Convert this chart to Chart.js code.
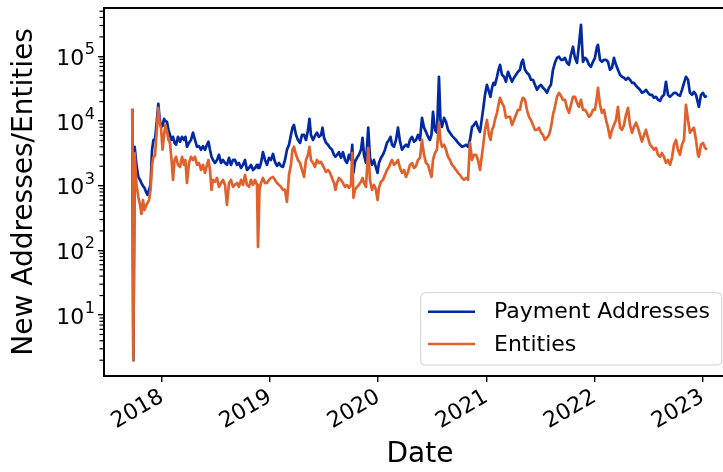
<!DOCTYPE html>
<html><head><meta charset="utf-8">
<script src="https://cdn.jsdelivr.net/npm/chart.js@4.4.1/dist/chart.umd.min.js"></script>
<style>
html,body{margin:0;padding:0;background:#fff;overflow:hidden;width:723px;height:472px;}
#wrap{position:relative;width:740px;height:472px;}
canvas{display:block;}
</style></head><body>
<div id="wrap"><canvas id="c" width="740" height="472"></canvas></div>
<script>
// Dates as decimal years
const dates = [
2017.725,2017.735,2017.747,2017.764,2017.781,2017.797,2017.810,2017.824,2017.838,2017.852,
2017.866,2017.880,2017.894,2017.908,2017.921,2017.935,2017.949,2017.966,2017.977,2017.991,
2018.005,2018.019,2018.032,2018.046,2018.060,2018.074,2018.088,2018.102,2018.116,2018.130,
2018.148,2018.167,2018.185,2018.204,2018.217,2018.231,2018.250,2018.268,2018.287,2018.305,
2018.324,2018.342,2018.361,2018.379,2018.398,2018.416,2018.430,2018.444,2018.458,2018.472,
2018.490,2018.509,2018.527,2018.546,2018.564,2018.583,2018.601,2018.620,2018.638,2018.657,
2018.675,2018.694,2018.712,2018.731,2018.749,2018.768,2018.786,2018.805,2018.823,2018.842,
2018.860,2018.879,2018.888,2018.902,2018.916,2018.934,2018.953,2018.971,2018.990,2019.008,
2019.027,2019.045,2019.064,2019.082,2019.101,2019.119,2019.138,2019.156,2019.175,2019.193,
2019.207,2019.221,2019.240,2019.258,2019.277,2019.295,2019.314,2019.332,2019.351,2019.364,
2019.378,2019.397,2019.415,2019.434,2019.452,2019.471,2019.485,2019.499,2019.517,2019.536,
2019.554,2019.573,2019.591,2019.605,2019.619,2019.637,2019.656,2019.674,2019.693,2019.711,
2019.730,2019.748,2019.760,2019.771,2019.785,2019.804,2019.822,2019.841,2019.855,2019.869,
2019.887,2019.908,2019.924,2019.943,2019.961,2019.980,2019.994,2020.007,2020.026,2020.044,
2020.063,2020.081,2020.100,2020.114,2020.128,2020.146,2020.165,2020.183,2020.202,2020.220,
2020.239,2020.257,2020.276,2020.294,2020.313,2020.331,2020.350,2020.368,2020.387,2020.405,
2020.424,2020.442,2020.461,2020.479,2020.493,2020.507,2020.525,2020.544,2020.562,2020.576,
2020.590,2020.609,2020.627,2020.646,2020.664,2020.683,2020.701,2020.720,2020.738,2020.757,
2020.775,2020.794,2020.812,2020.831,2020.849,2020.868,2020.886,2020.905,2020.923,2020.942,
2020.960,2020.974,2020.988,2021.006,2021.025,2021.039,2021.053,2021.066,2021.080,2021.099,
2021.113,2021.127,2021.145,2021.164,2021.182,2021.201,2021.219,2021.238,2021.256,2021.275,
2021.293,2021.312,2021.325,2021.339,2021.358,2021.376,2021.395,2021.413,2021.432,2021.450,
2021.469,2021.487,2021.506,2021.524,2021.543,2021.561,2021.580,2021.598,2021.617,2021.635,
2021.654,2021.672,2021.691,2021.709,2021.728,2021.746,2021.765,2021.783,2021.802,2021.820,
2021.839,2021.857,2021.876,2021.894,2021.913,2021.931,2021.950,2021.968,2021.987,2022.005,
2022.024,2022.033,2022.052,2022.070,2022.089,2022.107,2022.126,2022.144,2022.163,2022.181,
2022.200,2022.218,2022.237,2022.255,2022.274,2022.292,2022.311,2022.329,2022.348,2022.366,
2022.385,2022.403,2022.422,2022.440,2022.459,2022.477,2022.496,2022.514,2022.533,2022.551,
2022.570,2022.588,2022.607,2022.625,2022.644,2022.662,2022.681,2022.699,2022.718,2022.736,
2022.755,2022.773,2022.792,2022.810,2022.829,2022.847,2022.866,2022.884,2022.903,2022.921,
2022.940,2022.958,2022.967,2022.986,2023.004,2023.023,2023.041
];

const payment = [
15500,2,4000,2100,1370,1230,1100,990,925,800,
720,860,1030,3600,5100,5100,8700,18500,11200,8100,
8400,10800,10000,9700,7300,6100,5100,5700,4600,4300,
5700,4800,5700,5100,5700,4000,4600,5100,6600,5100,
4000,4100,3600,4100,3600,4300,4800,3600,2800,2500,
2250,2500,3000,2250,2500,2250,2100,2700,2100,2500,
2500,2100,2250,1880,2100,2500,1750,1880,2100,1750,
1880,2100,1880,1880,2250,3300,2500,2100,2700,2500,
3100,2330,2020,2250,2020,1950,2500,3600,4300,6100,
7900,8700,6100,5100,4600,6100,6100,5100,7300,10800,
6100,5100,5900,6600,5700,6100,7900,5500,4600,4300,
3850,3600,3000,2800,3000,3300,2700,3300,2500,2250,
3000,2500,4300,1580,2330,2700,3000,3600,5500,3000,
2250,7900,2700,2100,2500,1880,1580,2250,2700,3000,
3600,4600,5100,5700,4300,4000,5100,7900,4800,3600,
4000,4300,4000,5100,5700,4800,5100,6100,5100,11200,
7900,6800,5700,5100,6100,13900,7300,6600,48300,10400,
8100,11200,9700,7300,6600,5900,5500,5100,4600,4300,
4000,4100,4300,4000,5100,8100,8700,9700,7900,6800,
11200,16600,25400,36300,28300,23700,32700,39000,36300,48300,
62000,74100,51900,48300,40500,57700,48300,40500,46700,51900,
57700,62000,79600,88600,62000,55700,51900,43500,43500,36300,
30400,33800,36300,32700,30400,27300,32700,36300,62000,79600,
95000,99000,88600,88600,95000,79600,74100,106000,141000,95000,
79600,151000,308000,82500,95000,88600,74100,69000,82500,95000,
141000,151000,88600,82500,88600,88600,82500,62000,66600,95000,
74100,62000,51900,48300,46700,43500,46700,43500,39000,39000,
35100,32700,30400,27300,28300,30400,27300,25400,25400,22900,
23700,21300,20500,23700,25400,40500,25400,23700,25400,27300,
27300,25400,24500,30400,39000,48300,43500,27300,25400,28300,
25400,19100,16600,25400,27300,23700,24500
];

const entities = [
15500,2,3200,1030,670,505,365,600,420,490,
540,600,860,2100,2800,2900,6100,16000,9700,7900,
3600,6100,8700,6800,5100,4600,2500,1230,2500,2800,
2100,1950,2800,2100,2500,1100,2250,2800,2500,2800,
2100,2250,1750,2100,1580,2100,2500,1750,860,1230,
1150,1320,960,1100,1230,1030,505,1100,1230,960,
1030,1100,960,1230,1030,1470,1030,960,1230,1030,
1230,1030,113,860,1100,1320,1100,1100,1230,1320,
1370,1230,1100,1030,960,860,860,560,1470,2100,
3600,4000,3000,2500,2250,1750,1370,2500,3000,4000,
2500,2250,1950,2500,2250,2330,2100,1880,1630,1750,
1580,1320,1100,860,1100,1320,1230,1100,960,1030,
925,1030,3200,650,860,960,1030,1150,1320,1100,
960,3850,1230,860,1030,860,600,925,1150,1230,
1470,1750,1950,2250,2500,2100,2250,2500,1880,1580,
1750,1370,1630,2100,2250,1880,2020,2500,2700,5100,
3000,2250,2100,1630,1370,2500,3200,3600,9400,5100,
4000,4300,3600,2800,2500,2100,1950,1750,1580,1470,
1320,1230,1320,1230,4600,2500,3000,3000,2500,1750,
3000,4600,7300,10400,6100,5100,7300,8100,10400,13400,
17800,22900,19100,16600,11200,11600,11600,8700,10400,12500,
14900,14900,19800,22900,21300,14900,11600,10400,8700,7300,
7300,7900,6600,6100,5100,5500,6100,7900,12500,16600,
23700,27300,24500,21300,21300,16000,13400,17800,23700,23700,
19100,16600,21300,14900,14900,13400,11600,12500,14900,14900,
23700,32700,17800,13400,14900,10400,7900,5500,7300,8700,
10400,16600,7900,7300,8700,12500,16000,8700,6600,8100,
9400,7900,6100,4800,6100,7300,5500,4300,4000,3600,
3850,3000,2800,3200,2800,2250,2500,2100,2700,4300,
5100,3600,3000,4300,5100,17800,10400,6600,7300,7900,
5100,3000,2800,4300,4600,3850,3600
];

const seriesNames = ['Payment Addresses', 'Entities'];
const yearTicks = [2018, 2019, 2020, 2021, 2022, 2023];
const decadeTicks = [10, 100, 1000, 10000, 100000];
const decadeBase = '10';
const decadeExponents = ['1', '2', '3', '4', '5'];

const COLORS = ['#0029a3', '#e0612b'];
const Y_MIN = 1.14, Y_MAX = 5.6e5;
const minorTicks = [];
for (let e = 0; e <= 5; e++) {
  for (let m = 2; m <= 9; m++) {
    const v = m * Math.pow(10, e);
    if (v >= Y_MIN && v <= Y_MAX) minorTicks.push(v);
  }
}

Chart.defaults.font.family = "'DejaVu Sans', sans-serif";
Chart.defaults.color = '#000';

const decor = {
  id: 'decor',
  afterDraw(chart) {
    const { ctx, chartArea: a, scales } = chart;
    ctx.save();
    // top spine
    ctx.strokeStyle = '#000';
    ctx.lineWidth = 2;
    ctx.beginPath();
    ctx.moveTo(a.left - 1, a.top);
    ctx.lineTo(a.right + 1, a.top);
    ctx.stroke();
    // minor ticks on y axis
    ctx.lineWidth = 1.2;
    const ys = scales.y;
    minorTicks.forEach(v => {
      const p = ys.getPixelForValue(v);
      ctx.beginPath();
      ctx.moveTo(a.left - 1, p);
      ctx.lineTo(a.left - 4.5, p);
      ctx.stroke();
    });
    // y tick labels with superscript exponent
    ctx.fillStyle = '#000';
    ctx.textBaseline = 'alphabetic';
    ctx.textAlign = 'left';
    const labelRight = a.left - 9;
    decadeTicks.forEach((v, i) => {
      const p = ys.getPixelForValue(v);
      ctx.font = "16px 'DejaVu Sans', sans-serif";
      const we = ctx.measureText(decadeExponents[i]).width;
      ctx.fillText(decadeExponents[i], labelRight - we, p - 2);
      ctx.font = "22px 'DejaVu Sans', sans-serif";
      const wb = ctx.measureText(decadeBase).width;
      ctx.fillText(decadeBase, labelRight - we - wb - 0.5, p + 8.5);
    });
    // legend (lower right)
    const w = 301, h = 72.3;
    const right = a.right - 14.3, bottom = a.bottom - 11;
    const left = right - w, top = bottom - h;
    ctx.beginPath();
    if (ctx.roundRect) ctx.roundRect(left, top, w, h, 4); else ctx.rect(left, top, w, h);
    ctx.fillStyle = 'rgba(255,255,255,0.8)';
    ctx.fill();
    ctx.lineWidth = 1;
    ctx.strokeStyle = '#d0d0d0';
    ctx.stroke();
    ctx.font = "22px 'DejaVu Sans', sans-serif";
    ctx.textBaseline = 'middle';
    ctx.textAlign = 'left';
    const rows = [top + 19, top + 51.3];
    chart.data.datasets.forEach((ds, i) => {
      ctx.strokeStyle = ds.borderColor;
      ctx.lineWidth = 2.5;
      ctx.beginPath();
      ctx.moveTo(left + 7.3, rows[i]);
      ctx.lineTo(left + 54.3, rows[i]);
      ctx.stroke();
      ctx.fillStyle = '#000';
      ctx.fillText(ds.label, left + 73.3, rows[i] + 1);
    });
    ctx.restore();
  }
};

new Chart(document.getElementById('c'), {
  type: 'line',
  data: {
    datasets: [
      {
        label: seriesNames[0],
        data: dates.map((d, i) => ({ x: d, y: payment[i] })),
        borderColor: COLORS[0],
        borderWidth: 2.7,
        pointRadius: 0,
        tension: 0,
        borderJoinStyle: 'round',
        fill: false,
        order: 1
      },
      {
        label: seriesNames[1],
        data: dates.map((d, i) => ({ x: d, y: entities[i] })),
        borderColor: COLORS[1],
        borderWidth: 2.7,
        pointRadius: 0,
        tension: 0,
        borderJoinStyle: 'round',
        fill: false,
        order: 0
      }
    ]
  },
  options: {
    responsive: false,
    animation: false,
    devicePixelRatio: 1,
    layout: { padding: { top: 8, right: 4, left: 0, bottom: 0 } },
    plugins: { legend: { display: false }, tooltip: { enabled: false } },
    scales: {
      x: {
        type: 'linear',
        min: 2017.4635,
        max: 2023.31,
        afterBuildTicks: s => { s.ticks = yearTicks.map(v => ({ value: v })); },
        afterFit: s => { s.height = 96; s.paddingLeft = 0; s.paddingRight = 0; },
        ticks: {
          autoSkip: false, minRotation: 30, maxRotation: 30,
          font: { size: 22 }, color: '#000', padding: 2,
          callback: v => String(v)
        },
        grid: { drawOnChartArea: false, drawTicks: true, tickLength: 6, color: '#000', lineWidth: 1.4 },
        border: { display: true, color: '#000', width: 2 },
        title: { display: true, text: 'Date', font: { size: 28 }, color: '#000', padding: { top: 0, bottom: 0 } }
      },
      y: {
        type: 'logarithmic',
        min: Y_MIN,
        max: Y_MAX,
        afterBuildTicks: s => { s.ticks = decadeTicks.map(v => ({ value: v, major: true })); },
        afterFit: s => { s.width = 104; s.paddingTop = 0; s.paddingBottom = 0; },
        ticks: {
          font: { size: 22 }, color: '#000', padding: 3,
          callback: () => ''
        },
        grid: { drawOnChartArea: false, drawTicks: true, tickLength: 6, color: '#000', lineWidth: 1.4 },
        border: { display: true, color: '#000', width: 2 },
        title: { display: true, text: 'New Addresses/Entities', font: { size: 28 }, color: '#000', padding: { top: 8, bottom: 0 } }
      }
    }
  },
  plugins: [decor]
});
</script>
</body></html>
